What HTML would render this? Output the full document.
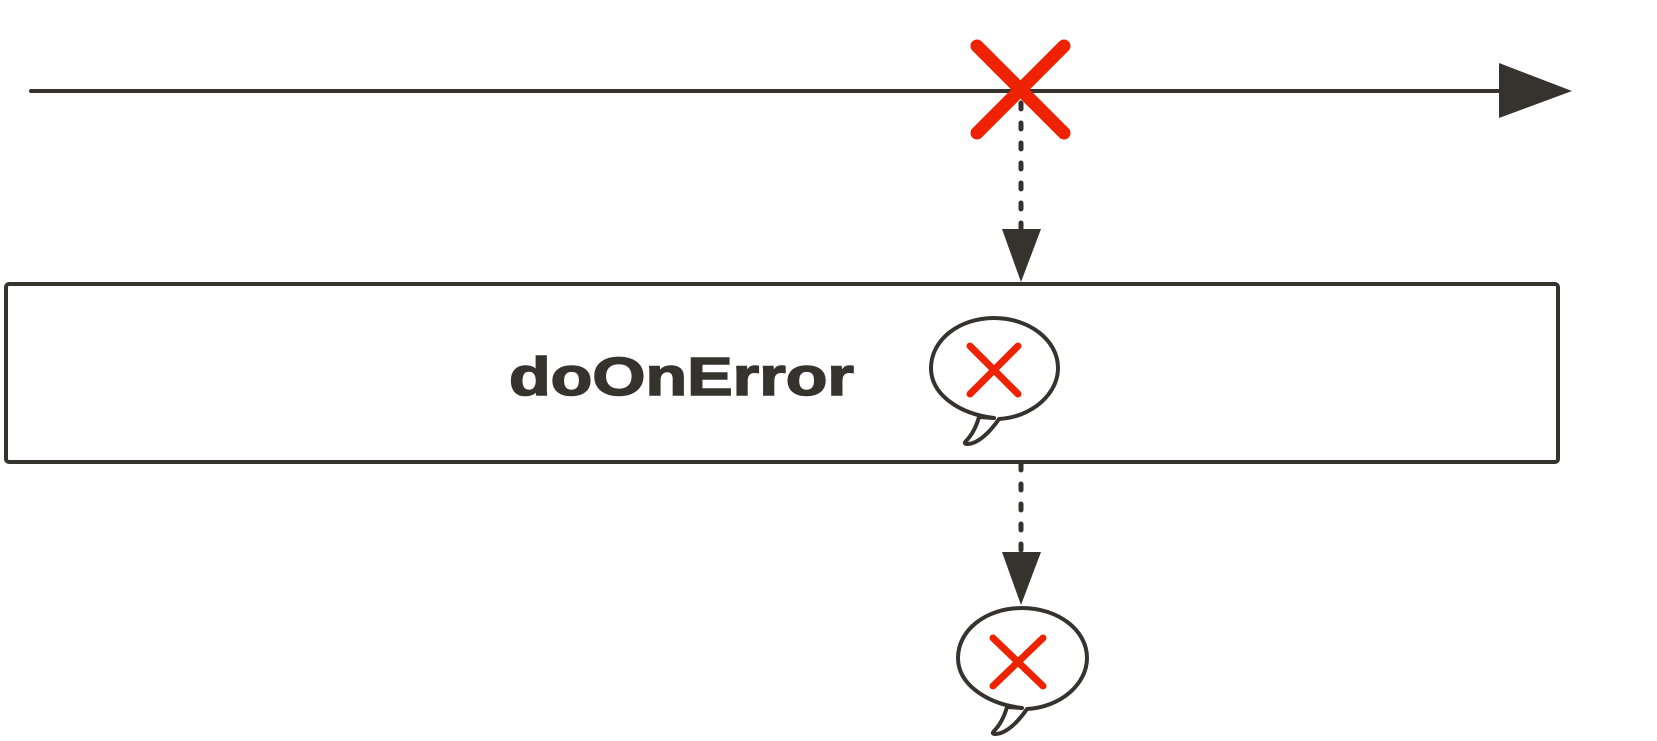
<!DOCTYPE html>
<html><head><meta charset="utf-8"><style>html,body{margin:0;padding:0;background:#fff;}svg{display:block}</style></head>
<body>
<svg width="1657" height="741" viewBox="0 0 1657 741" xmlns="http://www.w3.org/2000/svg">
<g stroke="#36322d" fill="none" stroke-linecap="round">
  <line x1="31" y1="91" x2="1502" y2="91" stroke-width="4"/>
  <rect x="6" y="284" width="1552" height="178" rx="3" stroke-width="4"/>
  <line x1="1021" y1="103" x2="1021" y2="228" stroke-width="5" stroke-dasharray="6,14"/>
  <line x1="1021" y1="464" x2="1021" y2="552" stroke-width="5" stroke-dasharray="6,14"/>
  <path d="M994,418 C960,414 931,395 931,368 C931,340 959,318 994,318 C1029,318 1058,340 1058,368 C1058,394 1032,417 999,419 C990,432 978,444 967,444 C965,444 964,443 966,441 C973,434 977,424 979,417 Z" stroke-width="4" stroke-linejoin="round"/>
  <path d="M1022,708 C988,704 958,685 958,658 C958,630 986,608 1022,608 C1058,608 1087,630 1087,658 C1087,684 1061,707 1027,709 C1018,722 1006,734 995,734 C993,734 992,733 994,731 C1001,724 1005,714 1007,707 Z" stroke-width="4" stroke-linejoin="round"/>
</g>
<g fill="#36322d">
  <polygon points="1499,63 1572,91 1499,118"/>
  <polygon points="1002,229 1041,229 1021,282"/>
  <polygon points="1002,552 1041,552 1021,605"/>
</g>
<g stroke="#ee2200" stroke-linecap="round">
  <g stroke-width="13"><line x1="977" y1="46" x2="1064" y2="133"/><line x1="1064" y1="46" x2="977" y2="133"/></g>
  <g stroke-width="7"><line x1="970" y1="346" x2="1018" y2="394"/><line x1="1018" y1="346" x2="970" y2="394"/></g>
  <g stroke-width="7"><line x1="993" y1="638" x2="1043" y2="686"/><line x1="1043" y1="638" x2="993" y2="686"/></g>
</g>
<text x="509" y="395" font-family="Liberation Sans, sans-serif" font-weight="bold" font-size="54" fill="#36322d" stroke="#36322d" stroke-width="1.5" textLength="345" lengthAdjust="spacingAndGlyphs">doOnError</text>
</svg>
</body></html>
